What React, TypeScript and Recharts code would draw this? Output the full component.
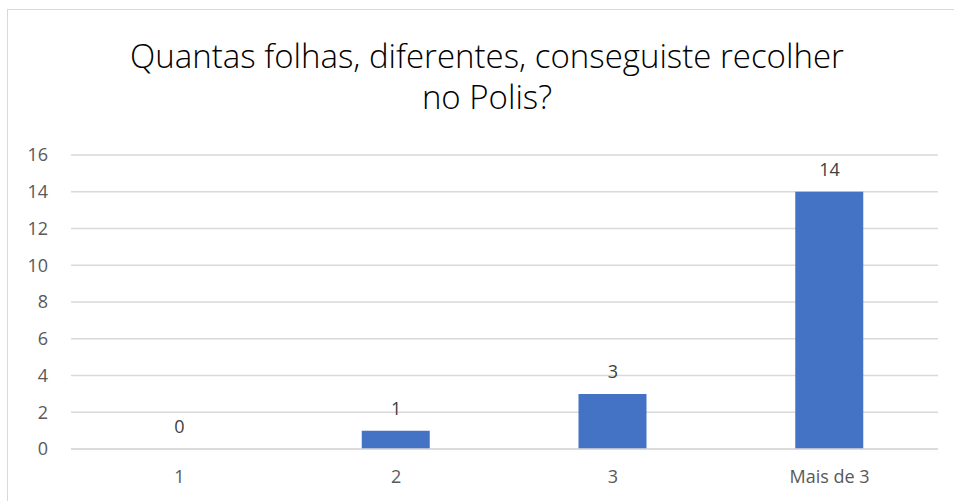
import { Bar, CartesianGrid, ComposedChart, Line, XAxis, YAxis } from "recharts";

const categories = ["1", "2", "3", "Mais de 3"];
const counts = [0, 1, 3, 14];
const yTicks = [0, 2, 4, 6, 8, 10, 12, 14, 16];

const data = categories.map((name, i) => ({ name, value: counts[i] }));

const font = "'Open Sans', sans-serif";

// labels go on an invisible line so the zero value still gets its "0"
const renderLabel = (props: any) => {
  const { x, y, value } = props;
  return (
    <text
      x={Number(x)}
      y={Number(y) - 16}
      textAnchor="middle"
      fill="#404040"
      fontSize={18}
      fontFamily={font}
    >
      {value}
    </text>
  );
};

export default function App() {
  return (
    <div style={{ position: "absolute", left: 0, top: 0, width: 954, height: 501, background: "#fff", overflow: "hidden" }}>
      <div
        style={{
          position: "absolute",
          left: 7,
          top: 9,
          width: 980,
          height: 520,
          border: "1px solid #d9d9d9",
        }}
      />
      <div
        style={{
          position: "absolute",
          left: 0,
          top: 35,
          width: 974,
          textAlign: "center",
          fontFamily: font,
          fontWeight: 300,
          fontSize: 33,
          lineHeight: "41px",
          color: "#000",
        }}
      >
        Quantas folhas, diferentes, conseguiste recolher
        <br />
        no Polis?
      </div>
      <div style={{ position: "absolute", left: 0, top: 0 }}>
        <ComposedChart
          width={954}
          height={501}
          data={data}
          margin={{ top: 155, right: 16, bottom: 0, left: 0 }}
          barSize={68}
        >
          <CartesianGrid vertical={false} stroke="#d9d9d9" strokeWidth={1.5} />
          <XAxis
            dataKey="name"
            height={52}
            axisLine={{ stroke: "#d9d9d9", strokeWidth: 1.5 }}
            tickLine={false}
            tickSize={6}
            tickMargin={15}
            tick={{ fill: "#595959", fontSize: 18, fontFamily: font }}
          />
          <YAxis
            width={71}
            domain={[0, 16]}
            ticks={yTicks}
            axisLine={false}
            tickLine={false}
            tickSize={6}
            tickMargin={17}
            tick={{ fill: "#595959", fontSize: 18, fontFamily: font }}
          />
          <Bar dataKey="value" fill="#4472C4" isAnimationActive={false} />
          <Line
            dataKey="value"
            stroke="none"
            dot={false}
            activeDot={false}
            isAnimationActive={false}
            label={renderLabel}
          />
        </ComposedChart>
      </div>
    </div>
  );
}
